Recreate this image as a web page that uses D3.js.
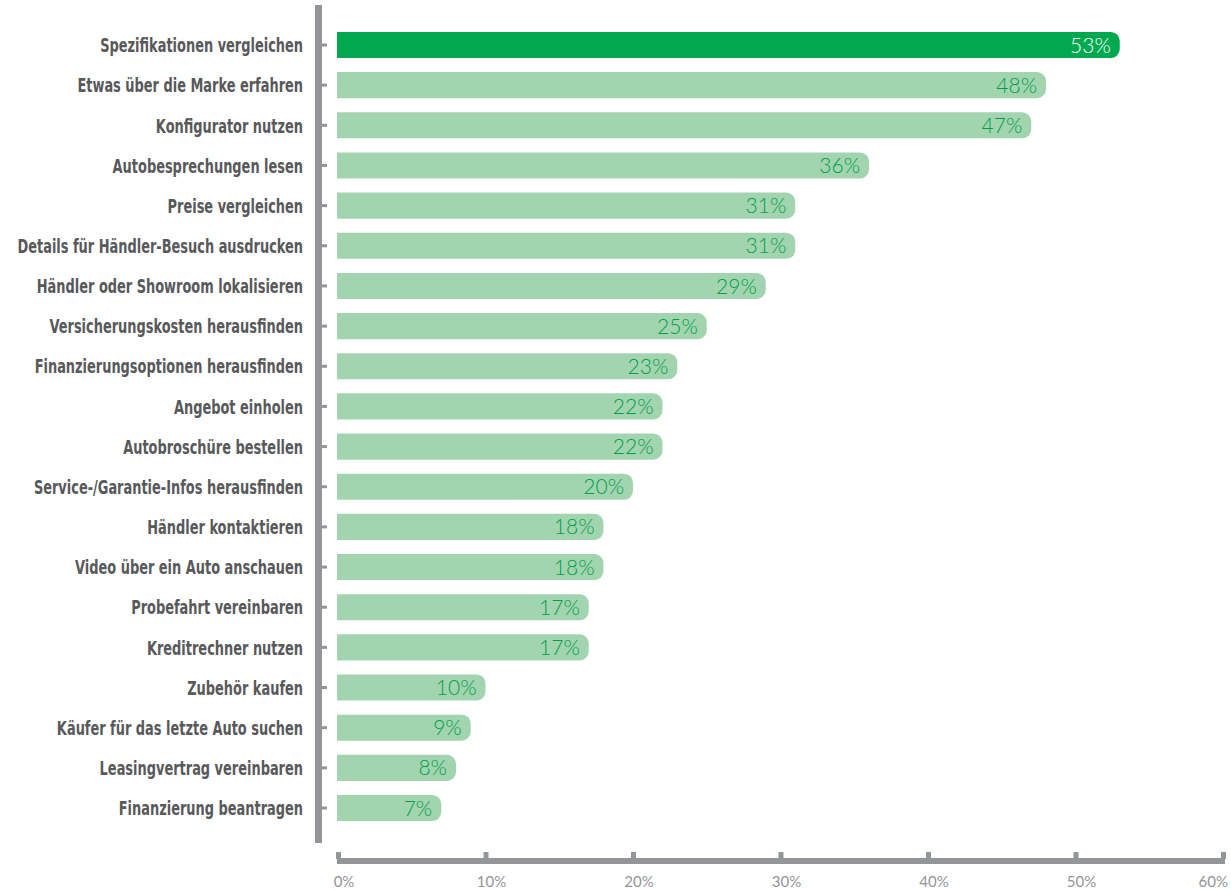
<!DOCTYPE html>
<html>
<head>
<meta charset="utf-8">
<script src="https://cdn.jsdelivr.net/npm/d3@7"></script>
<style>
  html, body { margin: 0; padding: 0; background: #fff; }
  #chart { width: 1231px; height: 890px; }
  .cat-label { font-family: "DejaVu Sans Condensed", "DejaVu Sans", sans-serif; font-weight: bold; font-stretch: condensed; fill: #58595b; }
  .value-label { font-family: Lato, "Open Sans", sans-serif; font-weight: 300; }
  .x-label { font-family: Lato, "Open Sans", sans-serif; font-weight: 400; fill: #939497; }
</style>
</head>
<body>
<div id="chart"></div>
<script>
// Daten: Online-Aktivitäten beim Autokauf
const categories = [
    'Spezifikationen vergleichen',
    'Etwas über die Marke erfahren',
    'Konfigurator nutzen',
    'Autobesprechungen lesen',
    'Preise vergleichen',
    'Details für Händler-Besuch ausdrucken',
    'Händler oder Showroom lokalisieren',
    'Versicherungskosten herausfinden',
    'Finanzierungsoptionen herausfinden',
    'Angebot einholen',
    'Autobroschüre bestellen',
    'Service-/Garantie-Infos herausfinden',
    'Händler kontaktieren',
    'Video über ein Auto anschauen',
    'Probefahrt vereinbaren',
    'Kreditrechner nutzen',
    'Zubehör kaufen',
    'Käufer für das letzte Auto suchen',
    'Leasingvertrag vereinbaren',
    'Finanzierung beantragen'
];
const values = [53, 48, 47, 36, 31, 31, 29, 25, 23, 22, 22, 20, 18, 18, 17, 17, 10, 9, 8, 7];
const xTicks = [0, 10, 20, 30, 40, 50, 60];

const width = 1231, height = 890;
const axisGray = '#939598';

const svg = d3.select('#chart')
    .append('svg')
    .attr('width', width)
    .attr('height', height);

// Skalen
const x = d3.scaleLinear().domain([0, 60]).range([338, 1223]);
const y = d3.scaleBand()
    .domain(categories)
    .range([24.9, 828.1])
    .paddingInner(0.35)
    .paddingOuter(0.175);

const data = categories.map((c, i) => ({ cat: c, val: values[i], top: i === 0 }));

// Y-Achse (dicke graue Linie mit kleinen Ticks)
svg.append('rect')
    .attr('x', 315).attr('y', 5)
    .attr('width', 7).attr('height', 838)
    .attr('fill', axisGray);

svg.selectAll('.ytick')
    .data(data)
    .join('rect')
    .attr('class', 'ytick')
    .attr('x', 322)
    .attr('y', d => y(d.cat) + y.bandwidth() / 2 - 1.5)
    .attr('width', 5).attr('height', 3)
    .attr('fill', axisGray);

// Kategorien - schmale Schrift, horizontal gestaucht auf Referenzbreite
const labelRight = 303;
const catLabels = svg.selectAll('.cat-label')
    .data(data)
    .join('text')
    .attr('class', 'cat-label')
    .attr('x', 0)
    .attr('y', 0)
    .attr('dy', '0.36em')
    .attr('text-anchor', 'end')
    .attr('font-size', '20px')
    .text(d => d.cat);

const refWidth = 203; // Breite von "Spezifikationen vergleichen"
const k = refWidth / catLabels.node().getComputedTextLength();
catLabels.attr('transform', d =>
    `translate(${labelRight},${y(d.cat) + y.bandwidth() / 2}) scale(${Math.min(k, 1)},1)`);

// Balken: links eckig, rechts abgerundet
const r = 9;
function barPath(d) {
    const x0 = x(0) - 1, x1 = x(d.val), y0 = y(d.cat), h = y.bandwidth();
    return `M${x0},${y0}H${x1 - r}A${r},${r} 0 0 1 ${x1},${y0 + r}` +
        `V${y0 + h - r}A${r},${r} 0 0 1 ${x1 - r},${y0 + h}H${x0}Z`;
}

svg.selectAll('.bar')
    .data(data)
    .join('path')
    .attr('class', 'bar')
    .attr('d', barPath)
    .attr('fill', d => d.top ? '#00a94f' : '#a3d4b0');

// Werte am Balkenende
svg.selectAll('.value-label')
    .data(data)
    .join('text')
    .attr('class', 'value-label')
    .attr('x', d => x(d.val) - 9)
    .attr('y', d => y(d.cat) + y.bandwidth() / 2)
    .attr('dy', '0.36em')
    .attr('text-anchor', 'end')
    .attr('font-size', '21px')
    .attr('fill', d => d.top ? '#ffffff' : '#00a04a')
    .text(d => d.val + '%');

// X-Achse
svg.append('rect')
    .attr('x', 337).attr('y', 858)
    .attr('width', x(60) + 2 - 337).attr('height', 6)
    .attr('fill', axisGray);

svg.selectAll('.xtick')
    .data(xTicks)
    .join('rect')
    .attr('class', 'xtick')
    .attr('x', d => x(d) - 2)
    .attr('y', 852)
    .attr('width', 5).attr('height', 7)
    .attr('fill', axisGray);

svg.selectAll('.x-label')
    .data(xTicks)
    .join('text')
    .attr('class', 'x-label')
    .attr('x', d => d === 60 ? width - 3 : x(d) + 6)
    .attr('y', 887)
    .attr('text-anchor', d => d === 60 ? 'end' : 'middle')
    .attr('font-size', '15px')
    .text(d => d + '%');
</script>
</body>
</html>
